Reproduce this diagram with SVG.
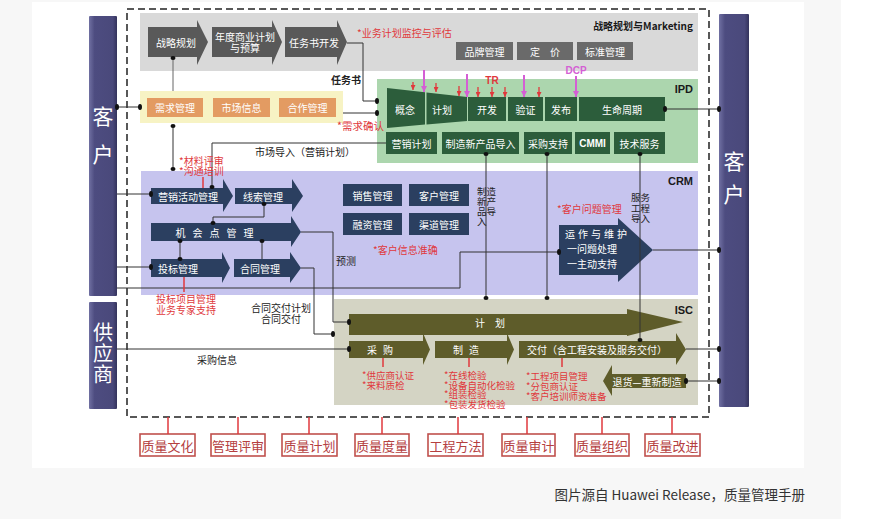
<svg xmlns="http://www.w3.org/2000/svg" width="886" height="519" viewBox="0 0 886 519">
<defs>
<style>
text{font-family:"Noto Sans CJK SC","Liberation Sans",sans-serif;}
.w{fill:#fff;font-size:10px;text-anchor:middle;dominant-baseline:central;}
.wm{fill:#fff;font-size:10px;text-anchor:middle;}
.ws{fill:#fff;font-size:10px;}
.k{fill:#222;font-size:9.5px;}
.km{fill:#222;font-size:10px;dominant-baseline:central;text-anchor:middle;}
.kmm{fill:#222;font-size:10px;text-anchor:middle;}
.r{fill:#e0383c;font-size:10px;dominant-baseline:central;}
.rm{fill:#e0383c;font-size:10px;}
.rs{fill:#e0383c;font-size:9.5px;}
.hd{fill:#1a1a1a;font-size:11px;font-weight:bold;text-anchor:end;dominant-baseline:central;font-family:"Liberation Sans","Noto Sans CJK SC",sans-serif;}
.ln{stroke:#333;stroke-width:1;fill:none;}
.dot{fill:#111;}
.rl{stroke:#e0383c;stroke-width:1.5;}
.q rect{fill:#fff;stroke:#c0504d;stroke-width:1.6;}
.q text{fill:#b5403f;font-size:13px;text-anchor:middle;dominant-baseline:central;}
.bar{fill:url(#gb);}
.bt{fill:#fff;font-size:21px;text-anchor:middle;}
.ga{fill:#595959;}
.gb{fill:#6a6a6a;}
.og{fill:#e39b62;}
.dg{fill:#2c5d3b;}
.nv{fill:#2b3f60;}
.ol{fill:#5e5c2a;}
.pk{stroke:#d45fd4;stroke-width:2;}
.rd{stroke:#e0383c;stroke-width:1.3;}
</style>
<linearGradient id="gb" x1="0" x2="1" y1="0" y2="0">
<stop offset="0" stop-color="#7070a2"/>
<stop offset="0.2" stop-color="#4d4c80"/>
<stop offset="0.85" stop-color="#4a497b"/>
<stop offset="1" stop-color="#34335c"/>
</linearGradient>
<marker id="mr" viewBox="0 0 6 6" refX="6" refY="3" markerWidth="5" markerHeight="5" orient="auto" markerUnits="userSpaceOnUse"><path d="M0,0 L6,3 L0,6 z" fill="#e0383c"/></marker>
<marker id="mp" viewBox="0 0 6 6" refX="6" refY="3" markerWidth="6" markerHeight="6" orient="auto" markerUnits="userSpaceOnUse"><path d="M0,0 L6,3 L0,6 z" fill="#d45fd4"/></marker>
</defs>

<rect x="0" y="0" width="886" height="519" fill="#fff"/>
<rect x="0" y="0" width="841" height="519" fill="#f7f7f7"/>
<rect x="32" y="2" width="772" height="466" fill="#fff"/>

<!-- side bars -->
<g id="customer-left">
<rect class="bar" x="89" y="16" width="28" height="280" rx="1"/>
<text class="bt"><tspan x="103" y="124">客</tspan><tspan x="103" y="162">户</tspan></text>
</g>
<g id="supplier">
<rect class="bar" x="89" y="302" width="28" height="107" rx="1"/>
<text class="bt" style="font-size:20px"><tspan x="103" y="340">供</tspan><tspan x="103" y="361">应</tspan><tspan x="103" y="382">商</tspan></text>
</g>
<g id="customer-right">
<rect class="bar" x="719" y="14" width="30" height="393" rx="1"/>
<text class="bt"><tspan x="734" y="169">客</tspan><tspan x="734" y="202">户</tspan></text>
</g>

<rect x="127" y="9" width="582" height="408" fill="none" stroke="#222" stroke-width="1.5" stroke-dasharray="7 4"/>

<!-- bands -->
<g id="band-strategy">
<rect x="140" y="13" width="558" height="58" fill="#d9d9d9"/>
<text class="hd" x="693" y="25" style="font-size:10px;font-family:'Noto Sans CJK SC','Liberation Sans',sans-serif">战略规划与Marketing</text>
</g>
<g id="band-demand"><rect x="140" y="91" width="203" height="32" fill="#f7f3c4"/></g>
<g id="band-ipd">
<rect x="377" y="79" width="321" height="84" fill="#acd6ae"/>
<text class="hd" x="693" y="89">IPD</text>
</g>
<g id="band-crm">
<rect x="141" y="171" width="557" height="124" fill="#c6c4ee"/>
<text class="hd" x="693" y="181">CRM</text>
</g>
<g id="band-isc">
<rect x="334" y="299" width="364" height="106" fill="#d4d4c4"/>
<text class="hd" x="693" y="310">ISC</text>
</g>

<!-- strategy nodes -->
<g id="n-zlgh"><polygon class="ga" points="148,27 197,27 197,20 208,42 197,65 197,57 148,57"/><text class="w" x="176" y="42">战略规划</text></g>
<g id="n-ndsy"><polygon class="ga" points="212,27 272,27 272,20 282,42 272,65 272,57 212,57"/><text class="wm"><tspan x="245" y="40.5">年度商业计划</tspan><tspan x="245" y="51.5">与预算</tspan></text></g>
<g id="n-rwskf"><polygon class="ga" points="285,27 337,27 337,20 347,42 337,65 337,57 285,57"/><text class="w" x="314" y="42">任务书开发</text></g>
<g id="n-ppgl"><rect class="gb" x="456" y="42" width="57" height="18"/><text class="w" x="484.5" y="51">品牌管理</text></g>
<g id="n-dj"><rect class="gb" x="517" y="42" width="56" height="18"/><text class="w" x="545" y="51">定　价</text></g>
<g id="n-bzgl"><rect class="gb" x="577" y="42" width="56" height="18"/><text class="w" x="605" y="51">标准管理</text></g>

<!-- demand nodes -->
<g id="n-xqgl"><rect class="og" x="147" y="98" width="56" height="19"/><text class="w" x="175" y="107.5">需求管理</text></g>
<g id="n-scxx"><rect class="og" x="213" y="98" width="57" height="19"/><text class="w" x="241.5" y="107.5">市场信息</text></g>
<g id="n-hzgl"><rect class="og" x="279" y="98" width="57" height="19"/><text class="w" x="307.5" y="107.5">合作管理</text></g>

<!-- IPD nodes -->
<g id="n-gn"><polygon class="dg" points="387,88 425,92.3 425,124.6 387,128"/><text class="w" x="405" y="109">概念</text></g>
<g id="n-jh"><polygon class="dg" points="426.5,92.4 467,97 467,121 426.5,124.4"/><text class="w" x="442" y="109">计划</text></g>
<g id="n-kf"><rect class="dg" x="468" y="97" width="38" height="24"/><text class="w" x="487" y="109">开发</text></g>
<g id="n-yz"><rect class="dg" x="508" y="97" width="35" height="24"/><text class="w" x="525.5" y="109">验证</text></g>
<g id="n-fb"><rect class="dg" x="545" y="97" width="32" height="24"/><text class="w" x="561" y="109">发布</text></g>
<g id="n-smzq"><rect class="dg" x="579" y="97" width="86" height="24"/><text class="w" x="622" y="109">生命周期</text></g>
<g id="n-yxjh"><rect class="dg" x="386" y="132" width="51" height="22"/><text class="w" x="411.5" y="143">营销计划</text></g>
<g id="n-zzxcp"><rect class="dg" x="442" y="132" width="77" height="22"/><text class="w" x="480.5" y="143">制造新产品导入</text></g>
<g id="n-cgzc"><rect class="dg" x="524" y="132" width="48" height="22"/><text class="w" x="548" y="143">采购支持</text></g>
<g id="n-cmmi"><rect class="dg" x="575" y="132" width="35" height="22"/><text class="w" x="592.5" y="143" style="font-family:'Liberation Sans',sans-serif;font-weight:bold">CMMI</text></g>
<g id="n-jsfw"><rect class="dg" x="614" y="132" width="51" height="22"/><text class="w" x="639.5" y="143">技术服务</text></g>

<!-- TR / DCP markers -->
<g id="gates">
<line class="rd" x1="413" y1="82" x2="413" y2="90" marker-end="url(#mr)"/>
<line class="rd" x1="436" y1="83" x2="436" y2="92" marker-end="url(#mr)"/>
<line class="rd" x1="459" y1="86" x2="459" y2="96" marker-end="url(#mr)"/>
<line class="rd" x1="478" y1="87" x2="478" y2="97" marker-end="url(#mr)"/>
<line class="rd" x1="492" y1="87" x2="492" y2="97" marker-end="url(#mr)"/>
<line class="rd" x1="505" y1="87" x2="505" y2="97" marker-end="url(#mr)"/>
<line class="rd" x1="539" y1="87" x2="539" y2="97" marker-end="url(#mr)"/>
<line class="pk" x1="424" y1="70" x2="424" y2="92" marker-end="url(#mp)"/>
<line class="pk" x1="467" y1="74" x2="467" y2="97" marker-end="url(#mp)"/>
<line class="pk" x1="524" y1="75" x2="524" y2="97" marker-end="url(#mp)"/>
<line class="pk" x1="576" y1="76" x2="576" y2="97" marker-end="url(#mp)"/>
<text x="492" y="80" style="fill:#e0383c;font-size:10px;font-weight:bold;text-anchor:middle;dominant-baseline:central;font-family:'Liberation Sans',sans-serif">TR</text>
<text x="576" y="70" style="fill:#d45fd4;font-size:10px;font-weight:bold;text-anchor:middle;dominant-baseline:central;font-family:'Liberation Sans',sans-serif">DCP</text>
</g>

<!-- CRM nodes -->
<g id="n-yxhd"><polygon class="nv" points="151,188 223,188 223,179 233,196 223,212 223,204 151,204"/><text class="w" x="188" y="196">营销活动管理</text></g>
<g id="n-xsgl"><polygon class="nv" points="235,188 292,188 292,179 303,196 292,212 292,204 235,204"/><text class="w" x="263" y="196">线索管理</text></g>
<g id="n-jhd"><polygon class="nv" points="151,223 291,223 291,216 301,232 291,247 291,241 151,241"/><text class="w" x="218" y="232" style="letter-spacing:7px">机会点管理</text></g>
<g id="n-tbgl"><polygon class="nv" points="151,259 222,259 222,252 230,268 222,283 222,277 151,277"/><text class="w" x="178" y="268">投标管理</text></g>
<g id="n-htgl"><polygon class="nv" points="234,259 290,259 290,252 301,268 290,283 290,277 234,277"/><text class="w" x="260" y="268">合同管理</text></g>
<g id="n-xsgl2"><rect class="nv" x="343" y="184" width="59" height="22"/><text class="w" x="372.5" y="195">销售管理</text></g>
<g id="n-khgl"><rect class="nv" x="409" y="184" width="60" height="22"/><text class="w" x="439" y="195">客户管理</text></g>
<g id="n-rzgl"><rect class="nv" x="343" y="213" width="59" height="22"/><text class="w" x="372.5" y="224">融资管理</text></g>
<g id="n-qdgl"><rect class="nv" x="409" y="213" width="60" height="22"/><text class="w" x="439" y="224">渠道管理</text></g>
<g id="n-yzwh"><polygon class="nv" points="559,225 618,225 618,218 653,250 618,282 618,275 559,275"/>
<text class="ws"><tspan x="565" y="237.5" style="letter-spacing:3px">运作与维护</tspan><tspan x="567" y="252.5">一问题处理</tspan><tspan x="567" y="267.5">一主动支持</tspan></text></g>

<!-- ISC nodes -->
<g id="n-plan"><polygon class="ol" points="349,314 627,314 627,309 683,322 627,336 627,335 349,335"/><text class="w" x="495" y="322" style="letter-spacing:10px">计划</text></g>
<g id="n-cg"><polygon class="ol" points="349,341 423,341 423,333 430,349.5 423,365 423,358 349,358"/><text class="w" x="383" y="349.5" style="letter-spacing:6px">采购</text></g>
<g id="n-zz"><polygon class="ol" points="435,341 507,341 507,333 514,349.5 507,365 507,358 435,358"/><text class="w" x="469" y="349.5" style="letter-spacing:6px">制造</text></g>
<g id="n-jf"><polygon class="ol" points="519,341 676,341 676,333 686,349.5 676,365 676,358 519,358"/><text class="w" x="597" y="349.5">交付（含工程安装及服务交付）</text></g>
<g id="n-th"><polygon class="ol" points="686,374 612,374 612,365 603,381 612,396 612,388 686,388"/><text class="w" x="647" y="381">退货—重新制造</text></g>

<!-- quality nodes -->
<g id="quality" class="q">
<g id="q1"><rect x="140" y="434" width="55" height="22"/><text x="167.5" y="445">质量文化</text></g>
<g id="q2"><rect x="211" y="434" width="54" height="22"/><text x="238" y="445">管理评审</text></g>
<g id="q3"><rect x="282" y="434" width="55" height="22"/><text x="309.5" y="445">质量计划</text></g>
<g id="q4"><rect x="355" y="434" width="54" height="22"/><text x="382" y="445">质量度量</text></g>
<g id="q5"><rect x="428" y="434" width="55" height="22"/><text x="455.5" y="445">工程方法</text></g>
<g id="q6"><rect x="502" y="434" width="53" height="22"/><text x="528.5" y="445">质量审计</text></g>
<g id="q7"><rect x="575" y="434" width="54" height="22"/><text x="602" y="445">质量组织</text></g>
<g id="q8"><rect x="645" y="434" width="55" height="22"/><text x="672.5" y="445">质量改进</text></g>
</g>

<!-- connectors -->
<g id="connectors">
<line class="ln" x1="117" y1="107" x2="140" y2="107"/>
<line class="ln" x1="173" y1="58" x2="173" y2="91" style="stroke:#666"/>
<polyline class="ln" points="347,43 363,43 363,101 377,101"/>
<line class="ln" x1="343" y1="113" x2="377" y2="113"/>
<line class="ln" x1="173" y1="126" x2="173" y2="169"/>
<polyline class="ln" points="386,143 212,143 212,187"/>
<polyline class="ln" points="264,204 264,217 213,217 213,223"/>
<line class="ln" x1="180" y1="241" x2="180" y2="259"/>
<line class="ln" x1="262" y1="241" x2="262" y2="259"/>
<line class="ln" x1="117" y1="194" x2="151" y2="194"/>
<line class="ln" x1="117" y1="267" x2="151" y2="267"/>
<polyline class="ln" points="117,288 460,288 460,252 559,252"/>
<polyline class="ln" points="301,232 333,232 333,322 349,322"/>
<polyline class="ln" points="301,268 314,268 314,334 333,334"/>
<line class="ln" x1="117" y1="349" x2="349" y2="349"/>
<line class="ln" x1="486" y1="154" x2="486" y2="298"/>
<line class="ln" x1="547" y1="154" x2="547" y2="298"/>
<line class="ln" x1="640" y1="154" x2="640" y2="340"/>
<line class="ln" x1="665" y1="109" x2="719" y2="109"/>
<line class="ln" x1="653" y1="250" x2="719" y2="250"/>
<line class="ln" x1="686" y1="349" x2="719" y2="349"/>
<line class="ln" x1="686" y1="381" x2="719" y2="381"/>
<g class="dot">
<ellipse cx="117" cy="107" rx="2" ry="3"/><ellipse cx="140" cy="107" rx="2" ry="3"/>
<ellipse cx="173" cy="58" rx="2.5" ry="2"/>
<ellipse cx="377" cy="101" rx="2" ry="3"/><ellipse cx="377" cy="113" rx="2" ry="3"/>
<ellipse cx="173" cy="126" rx="2.5" ry="2"/><ellipse cx="173" cy="169" rx="2.5" ry="2"/>
<ellipse cx="212" cy="187" rx="2.5" ry="2"/>
<ellipse cx="264" cy="204" rx="2.5" ry="2"/><ellipse cx="213" cy="223" rx="2.5" ry="2"/>
<ellipse cx="180" cy="241" rx="2.5" ry="2"/><ellipse cx="180" cy="259" rx="2.5" ry="2"/>
<ellipse cx="262" cy="241" rx="2.5" ry="2"/>
<ellipse cx="151" cy="194" rx="2" ry="3"/><ellipse cx="151" cy="267" rx="2" ry="3"/>
<ellipse cx="559" cy="252" rx="2" ry="3"/>
<ellipse cx="349" cy="322" rx="2" ry="3"/><ellipse cx="333" cy="334" rx="2" ry="3"/>
<ellipse cx="349" cy="349" rx="2" ry="3"/>
<ellipse cx="486" cy="154" rx="2.5" ry="2"/><ellipse cx="486" cy="298" rx="2.5" ry="2"/>
<ellipse cx="547" cy="154" rx="2.5" ry="2"/><ellipse cx="547" cy="298" rx="2.5" ry="2"/>
<ellipse cx="640" cy="154" rx="2.5" ry="2"/><ellipse cx="640" cy="340" rx="2.5" ry="2"/>
<ellipse cx="665" cy="109" rx="2" ry="3"/><ellipse cx="719" cy="109" rx="2" ry="3"/>
<ellipse cx="719" cy="250" rx="2" ry="3"/>
<ellipse cx="719" cy="349" rx="2" ry="3"/>
<ellipse cx="686" cy="381" rx="2" ry="3"/><ellipse cx="719" cy="381" rx="2" ry="3"/>
</g>
<line class="rl" x1="203" y1="177" x2="203" y2="188"/>
<line class="rl" x1="184" y1="277" x2="184" y2="292"/>
<line class="rl" x1="383" y1="358" x2="383" y2="367"/>
<line class="rl" x1="469" y1="358" x2="469" y2="367"/>
<line class="rl" x1="562" y1="358" x2="562" y2="367"/>
<line class="rl" x1="168" y1="417" x2="168" y2="434"/>
<line class="rl" x1="238" y1="417" x2="238" y2="434"/>
<line class="rl" x1="309" y1="417" x2="309" y2="434"/>
<line class="rl" x1="382" y1="417" x2="382" y2="434"/>
<line class="rl" x1="458" y1="417" x2="458" y2="434"/>
<line class="rl" x1="527" y1="417" x2="527" y2="434"/>
<line class="rl" x1="602" y1="417" x2="602" y2="434"/>
<line class="rl" x1="672" y1="417" x2="672" y2="434"/>
</g>

<!-- labels -->
<g id="labels">
<text class="r" x="357" y="32">*业务计划监控与评估</text>
<text class="km" x="346" y="79" style="font-weight:bold">任务书</text>
<text class="r" x="337" y="125" style="font-size:10.5px">*需求确认</text>
<text class="km" x="305" y="151">市场导入（营销计划）</text>
<text class="rm"><tspan x="179" y="164.5">*材料评审</tspan><tspan x="179" y="174.5">*沟通培训</tspan></text>
<text class="k"><tspan x="477" y="195.3">制造</tspan><tspan x="477" y="205.3">新产</tspan><tspan x="477" y="215.3">品导</tspan><tspan x="477" y="225.3">入</tspan></text>
<text class="k"><tspan x="631" y="201.3">服务</tspan><tspan x="631" y="212.3">工程</tspan><tspan x="631" y="222.3">导入</tspan></text>
<text class="r" x="557" y="208">*客户问题管理</text>
<text class="r" x="373" y="249">*客户信息准确</text>
<text class="km" x="346" y="260">预测</text>
<text class="rm"><tspan x="156" y="302.5">投标项目管理</tspan><tspan x="156" y="313.5">业务专家支持</tspan></text>
<text class="kmm"><tspan x="281" y="311.5">合同交付计划</tspan><tspan x="281" y="322.5">合同交付</tspan></text>
<text class="km" x="217" y="359">采购信息</text>
<text class="rs"><tspan x="362" y="379.3">*供应商认证</tspan><tspan x="362" y="389.3">*来料质检</tspan></text>
<text class="rs"><tspan x="444" y="379.3">*在线检验</tspan><tspan x="444" y="388.8">*设备自动化检验</tspan><tspan x="444" y="398.3">*组装检验</tspan><tspan x="444" y="407.8">*包装发货检验</tspan></text>
<text class="rs"><tspan x="526" y="380.3">*工程项目管理</tspan><tspan x="526" y="390.3">*分包商认证</tspan><tspan x="526" y="400.3">*客户培训师资准备</tspan></text>
</g>

<text x="805" y="494" style="fill:#333;font-size:13.5px;text-anchor:end;dominant-baseline:central">图片源自 Huawei Release，质量管理手册</text>
</svg>
